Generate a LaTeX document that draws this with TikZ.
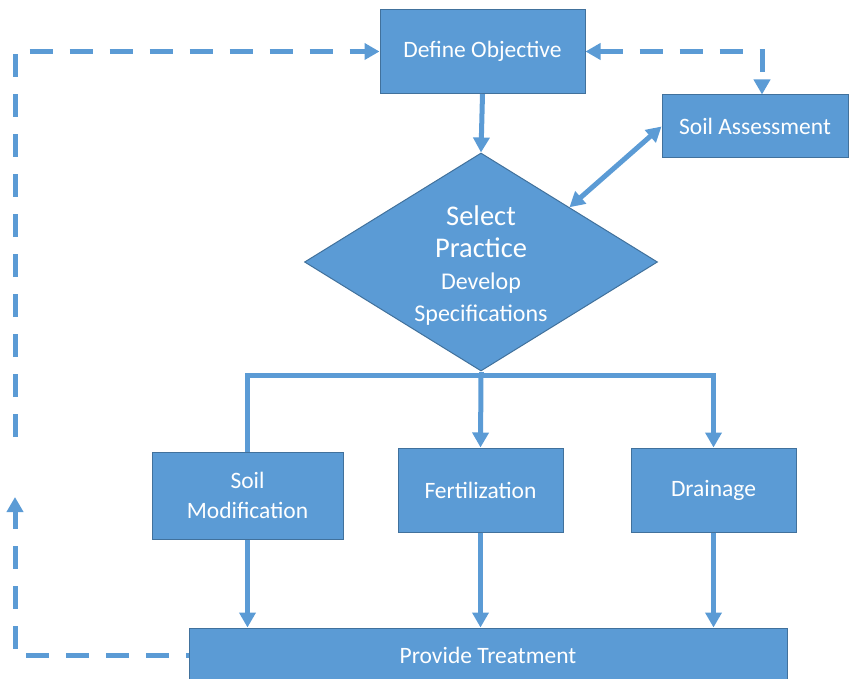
\documentclass[tikz,border=0pt]{standalone}
\usepackage{fontspec}
\setmainfont{Carlito}
\usetikzlibrary{shapes.geometric,arrows.meta}
\definecolor{boxblue}{RGB}{91,155,213}
\definecolor{boxedge}{RGB}{65,113,156}

\begin{document}
\begin{tikzpicture}[x=1pt,y=-1pt,
    box/.style={draw=boxedge, line width=1pt, fill=boxblue, text=white, inner sep=0pt,
        align=center, font=\fontsize{23.5}{30}\selectfont},
    link/.style={draw=boxblue, line width=5pt},
    flow/.style={link, -{Triangle[width=16pt,length=15pt]}},
    loop/.style={flow, dash pattern=on 23pt off 17pt}]
        \useasboundingbox (0,0) rectangle (851,679);
        \node[box, minimum width=205, minimum height=84] (obj) at (482.5,51.5) {Define Objective};
        \node[box, minimum width=186, minimum height=63] (assess) at (755,126.5) {Soil Assessment};
        \node[box, diamond, minimum width=353, minimum height=218] (select) at (481,262) {};
        \node[text=white, align=center, inner sep=0pt, font=\fontsize{24}{32}\selectfont] (selecttext) at (481,266)
            {{\fontsize{28.5}{32}\selectfont Select}\\ {\fontsize{28.5}{32}\selectfont Practice}\\
             Develop\\ Specifications};
        \node[box, minimum width=191, minimum height=87] (soilmod) at (247.5,495.5) {Soil\\Modification};
        \node[box, minimum width=165, minimum height=84] (fert) at (480.5,490) {Fertilization};
        \node[box, minimum width=165, minimum height=84] (drain) at (713.5,490) {Drainage};
        \node[box, minimum width=598, minimum height=54] (treat) at (488,655) {Provide Treatment};
        \coordinate (split) at (481,375);
        \coordinate (upturn) at (15,497);
        \coordinate (upgo) at (15,437);

        \draw[flow] (obj.south) -- (select.north);
        \draw[flow, {Triangle[width=16pt,length=15pt]}-{Triangle[width=16pt,length=15pt]}]
            (assess.west) -- (select.north east);
        \draw[loop, {Triangle[width=16pt,length=15pt]}-{Triangle[width=16pt,length=15pt]}]
            (obj.east) -- ([xshift=7]assess.north |- obj.east) -- ([xshift=7]assess.north);

        \draw[link] (select.south) -- (split) -| (soilmod.north);
        \draw[flow] (split) -| (drain.north);
        \draw[flow] (split) -- (fert.north);

        \draw[flow] (soilmod.south) -- (soilmod.south |- treat.north);
        \draw[flow] (fert.south) -- (fert.south |- treat.north);
        \draw[flow] (drain.south) -- (drain.south |- treat.north);

        \draw[loop, dash phase=20pt] (treat.west) -- (treat.west -| upturn) -- (upturn);
        \draw[loop] (upgo) -- (upgo |- obj.west) -- (obj.west);
    \end{tikzpicture}
\end{document}
